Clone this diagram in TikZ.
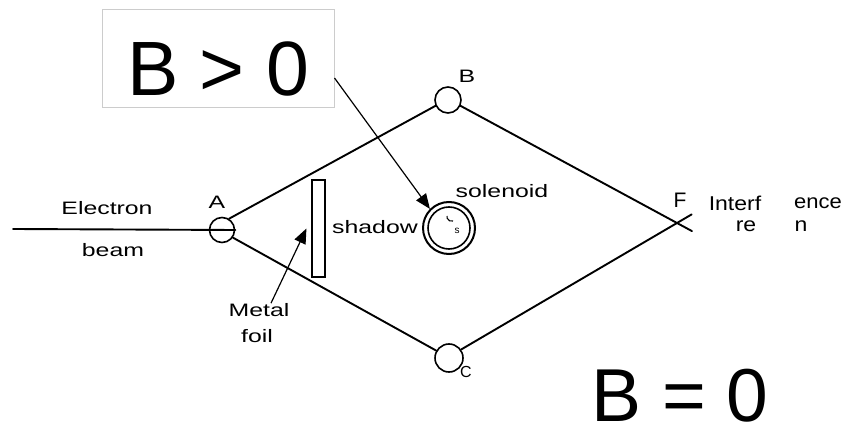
\documentclass[tikz,border=0pt]{standalone}
\usepackage{fontspec}
\usepackage{graphicx}
\setmainfont{Liberation Sans}
\usetikzlibrary{arrows.meta,calc}
\newcommand{\stretchtxt}[1]{\scalebox{1.38}[1]{#1}}
\begin{document}
\begin{tikzpicture}[x=1pt,y=-1pt,
  beamline/.style={line width=1.9pt, line cap=round},
  ring/.style={circle, draw, line width=1.6pt, inner sep=0pt},
  lbl/.style={inner sep=0pt, font=\fontsize{18}{20}\selectfont},
  biglbl/.style={inner sep=0pt, font=\fontsize{77}{80}\selectfont},
  intlbl/.style={inner sep=0pt, font=\fontsize{20}{21}\selectfont},
  ptr/.style={line width=1.2pt, -{Triangle[length=15pt,width=12pt]}},
  ]
\useasboundingbox (0,0) rectangle (846,430);

% framed box B > 0
\node[draw=black!20, line width=1pt, minimum width=232pt, minimum height=98pt, inner sep=0pt] (boxframe) at (218,59) {};
\node[biglbl] (bgt) at (218,69) {B > 0};
\node[biglbl, font=\fontsize{75}{78}\selectfont] (bzero) at (680,396) {B = 0};

% interferometer nodes
\node[ring, minimum size=25pt] (A) at (222,230) {};
\node[ring, minimum size=26pt] (B) at (448,100) {};
\node[ring, minimum size=28pt] (C) at (449,358) {};
\coordinate (F) at (677,223);
\coordinate (beamstart) at (13,229);

\draw[beamline] (beamstart) -- (A.east);
\draw[beamline] (A.58) -- (B.205);
\draw[beamline] (A.-35) -- (C.150);
\draw[beamline] (B.-25) -- ($(F)!-17pt!(B.-25)$);
\draw[beamline] (C.35) -- ($(F)!-17pt!(C.35)$);

% metal foil
\node[draw, line width=1.1pt, minimum width=13pt, minimum height=97pt, inner sep=0pt] (foil) at (318.5,228.5) {};

% solenoid
\node[ring, minimum size=52pt, line width=2pt] (sol) at (449,228) {};
\node[ring, minimum size=42pt, line width=1.6pt] (solin) at (sol) {};
\node[inner sep=0pt, font=\fontsize{10}{10}\selectfont] (solmark) at (457,231) {s};
\draw[line width=1.1pt] (453,221) arc (70:190:4.5);

% pointers
\draw[ptr] ([yshift=-19pt]boxframe.east) -- (sol.135);
\node[lbl] (metal) at (259,310) {\stretchtxt{Metal}};
\node[lbl] (foiltxt) at (257,336) {\stretchtxt{foil}};
\draw[ptr] ([xshift=12pt]metal.north) -- ([xshift=-5pt]foil.west);

% labels
\node[lbl] (elec) at (107,208) {\stretchtxt{Electron}};
\node[lbl] (beam) at (113,250) {\stretchtxt{beam}};
\node[lbl] (Alab) at (217,202) {\stretchtxt{A}};
\node[lbl] (Blab) at (467,76) {\stretchtxt{B}};
\node[lbl, font=\fontsize{16}{16}\selectfont] (Clab) at (466,372) {C};
\node[lbl, font=\fontsize{21}{22}\selectfont] (Flab) at (680,200) {F};
\node[lbl] (shadow) at (375,227) {\stretchtxt{shadow}};
\node[lbl] (solenoid) at (502,191) {\stretchtxt{solenoid}};
\node[intlbl] (int1) at (735,203) {\scalebox{1.15}[1]{Interf}};
\node[intlbl] (int2) at (818,203) {\scalebox{1.1}[1]{ence}};
\node[intlbl] (int3) at (746,226) {\scalebox{1.15}[1]{re}};
\node[intlbl] (int4) at (801,226) {\scalebox{1.15}[1]{n}};
\end{tikzpicture}
\end{document}
